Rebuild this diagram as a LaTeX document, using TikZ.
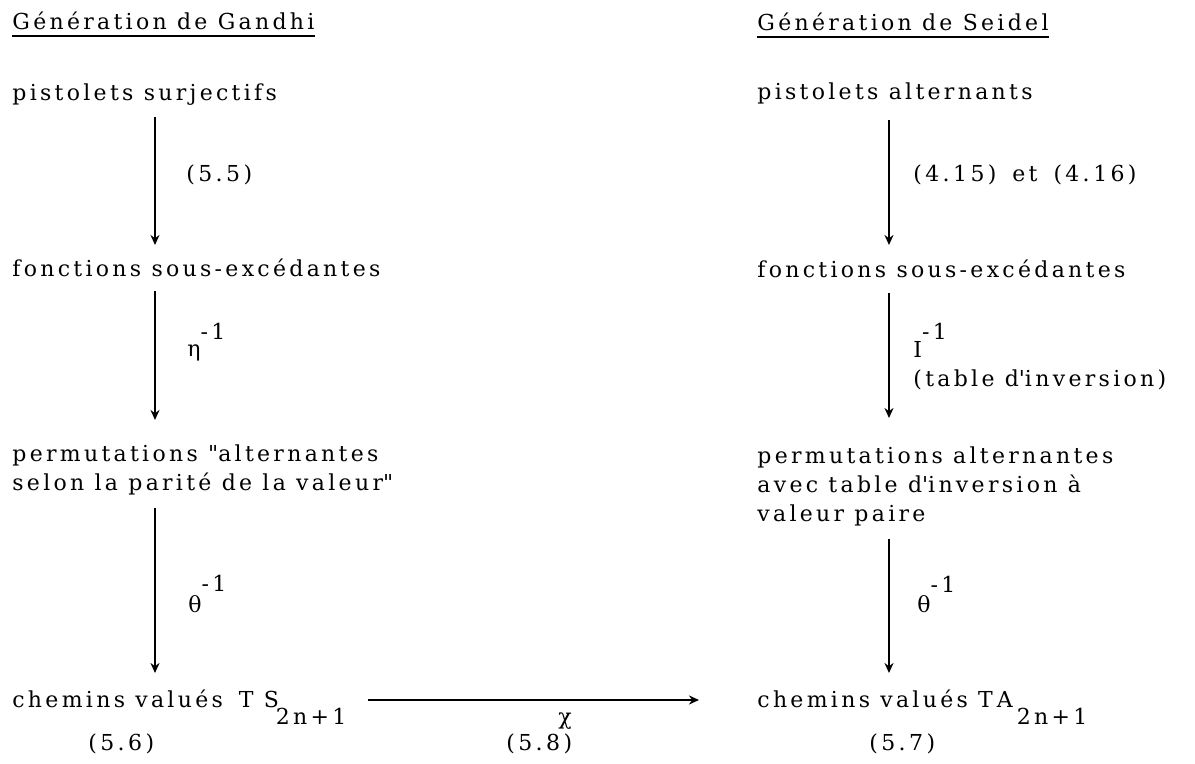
\documentclass[tikz,border=0pt]{standalone}
\usepackage{fontspec}
\setmainfont[LetterSpace=15]{DejaVu Serif}
\usetikzlibrary{arrows.meta,calc}

\begin{document}
\begin{tikzpicture}[x=0.5pt,y=-0.5pt,>={Stealth[length=5pt,width=4.5pt]},
  txt/.style={anchor=base west,inner sep=0pt,align=left,
    font=\fontsize{11}{14.7}\selectfont},
  down/.style={->,line width=1.3pt},
  across/.style={->,line width=1pt},
  uline/.style={line width=0.9pt}]
\useasboundingbox (0,0) rectangle (1195,764);
\coordinate (lcol) at (155,0); \coordinate (rcol) at (889,0);
% Gandhi
\node[txt] (gt) at (12,30) {Génération de Gandhi};
\node[txt] (ps) at (12,101) {pistolets surjectifs};
\node[txt] (fs) at (12,277) {fonctions sous-excédantes};
\node[txt] (pl) at (12,491) {permutations \textquotedbl alternantes\\selon la parité de la valeur\textquotedbl};
\node[txt] (cl) at (12,707) {chemins valués\hspace{8pt}T S\kern-1.5pt\raisebox{-9pt}{2n+1}};
\node[txt] (n55) at (186,182) {(5.\,5)};
\node[txt] (eta) at (187,357) {η\raisebox{8.5pt}{-1}};
\node[txt] (thl) at (188,612) {θ\raisebox{10pt}{-1}};
\node[txt] (n56) at (88,750) {(5.\,6)};
% Seidel
\node[txt] (gs) at (757,31) {Génération de Seidel};
\node[txt] (pa) at (757,100) {pistolets alternants};
\node[txt] (fr) at (757,278) {fonctions sous-excédantes};
\node[txt] (pr) at (757,522) {permutations alternantes\\avec table d\textquotesingle inversion à\\valeur paire};
\node[txt] (cr) at (757,707) {chemins valués T\kern2pt A\kern2pt\raisebox{-9pt}{2n+1}};
\node[txt] (n415) at (913,182) {(4.\,15)\hspace{8pt}et\hspace{8pt}(4.\,16)};
\node[txt] (inv) at (913,387) {I\raisebox{9pt}{-1}\\(table d\textquotesingle inversion)};
\node[txt] (thr) at (917,613) {θ\raisebox{10pt}{-1}};
\node[txt] (n57) at (869,750) {(5.\,7)};
% middle
\node[txt] (chi) at (558,725) {χ};
\node[txt] (n58) at (506,750) {(5.\,8)};

\draw[uline] ([yshift=-3pt]gt.base west) -- ([yshift=-3pt]gt.base east);
\draw[uline] ([yshift=-3pt]gs.base west) -- ([yshift=-3pt]gs.base east);

\draw[down] ($(ps.base -| lcol)+(0,16)$) -- ($(fs.base -| lcol)+(0,-32)$);
\draw[down] ($(fs.base -| lcol)+(0,14)$) -- ($(pl.base -| lcol)+(0,-71)$);
\draw[down] ($(pl.south -| lcol)+(0,12)$) -- ($(cl.base -| lcol)+(0,-34)$);
\draw[down] ($(pa.base -| rcol)+(0,20)$) -- ($(fr.base -| rcol)+(0,-33)$);
\draw[down] ($(fr.base -| rcol)+(0,15)$) -- ($(pr.base -| rcol)+(0,-104)$);
\draw[down] ($(pr.south -| rcol)+(0,12)$) -- ($(cr.base -| rcol)+(0,-34)$);
\draw[across] ($(cl.base east)+(21,-7)$) -- ($(cr.base west)+(-58,-7)$);
\end{tikzpicture}
\end{document}
